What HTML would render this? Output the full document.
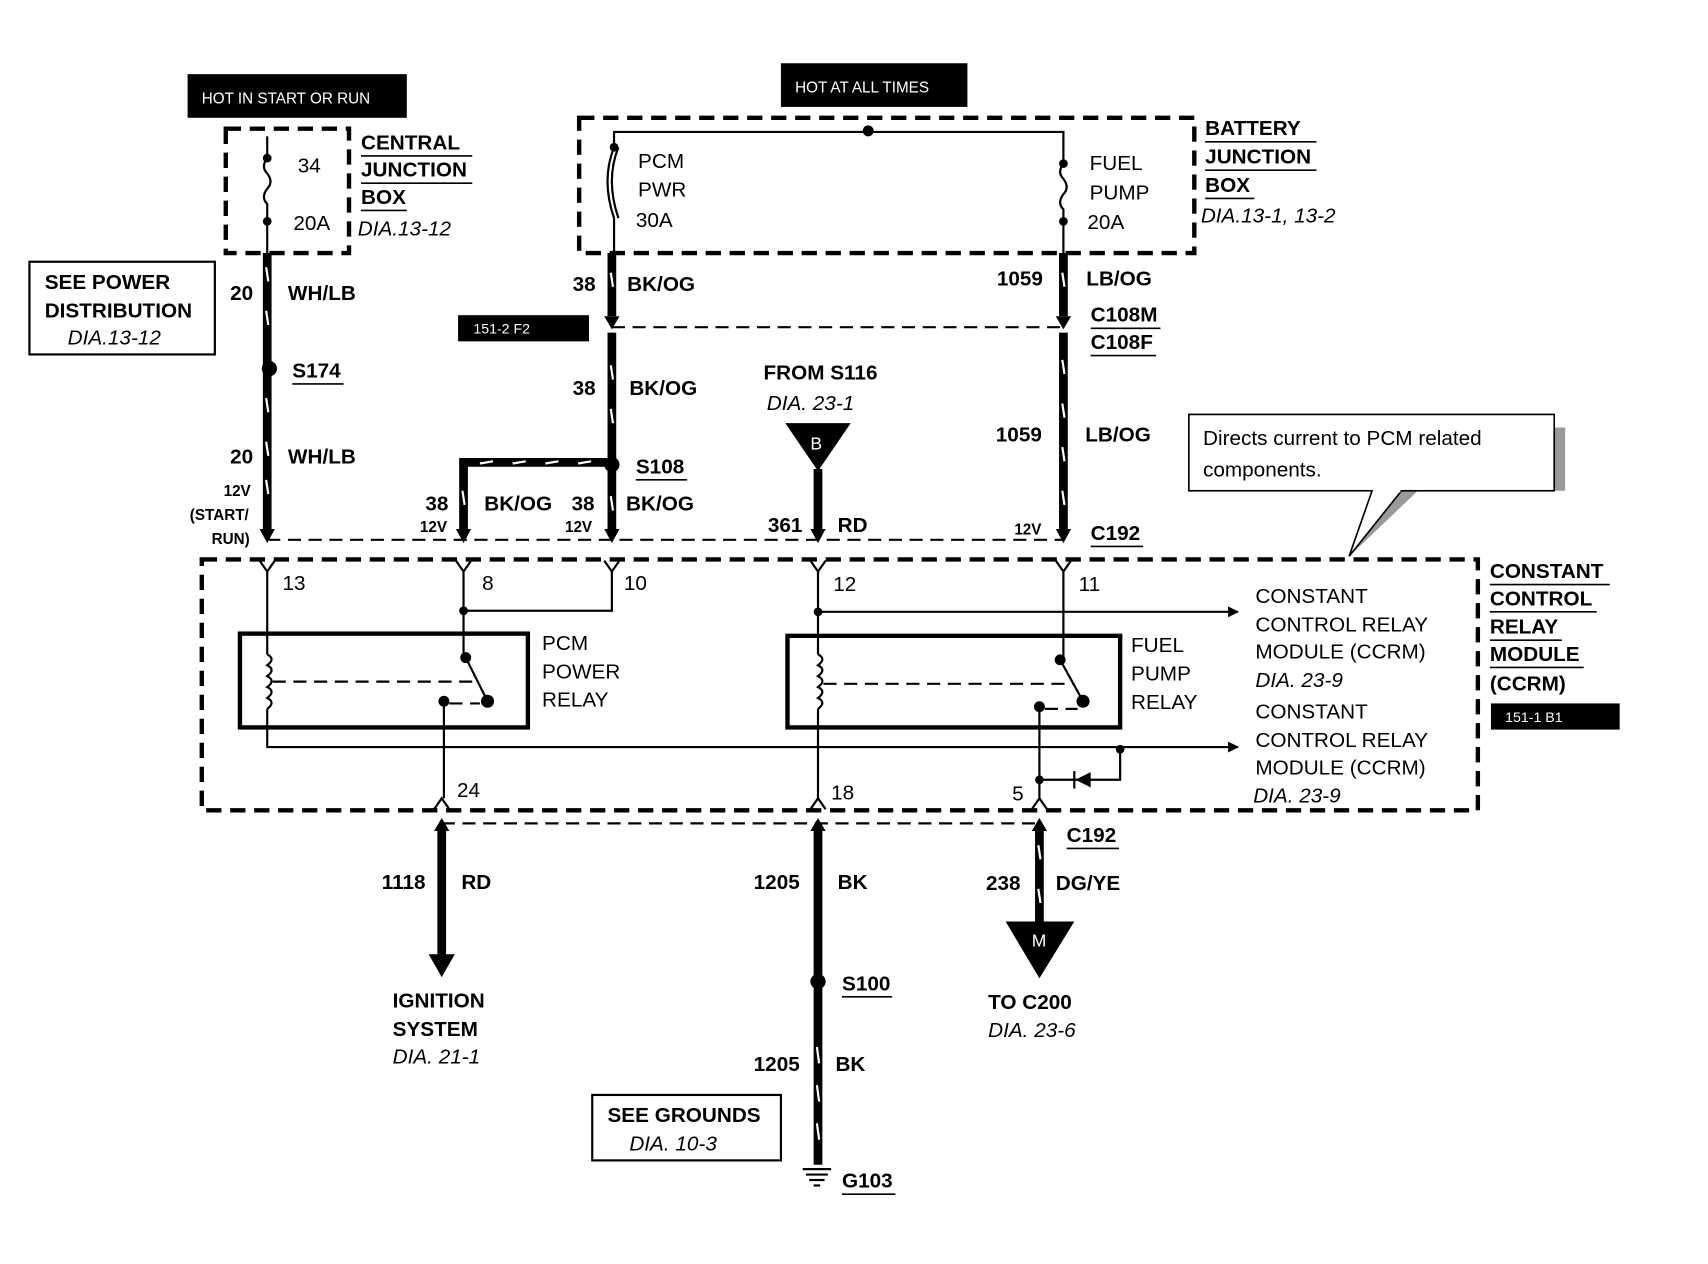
<!DOCTYPE html>
<html><head><meta charset="utf-8"><style>
html,body{margin:0;padding:0;background:#fff;}
svg{display:block;}
text{font-family:"Liberation Sans",Arial,sans-serif;font-size:19px;fill:#000;}
.b{font-weight:bold;}
.i{font-style:italic;}
.w{fill:#fff;font-size:14px;}
</style></head><body>
<svg width="1708" height="1264" viewBox="0 0 1566 1159" preserveAspectRatio="none" xmlns="http://www.w3.org/2000/svg">
<defs>
<marker id="ah" markerWidth="10" markerHeight="10" refX="9" refY="5" orient="auto" markerUnits="userSpaceOnUse"><path d="M0,0 L10,5 L0,10 z" fill="#000"/></marker>
</defs>
<rect x="172" y="68" width="201" height="40" fill="#000"/><text class="w" x="185" y="95">HOT IN START OR RUN</text>
<rect x="716" y="58" width="171" height="40" fill="#000"/><text class="w" x="729" y="85">HOT AT ALL TIMES</text>
<rect x="420" y="289" width="120" height="24" fill="#000"/><text class="w" x="434" y="306" style="font-size:13px">151-2 F2</text>
<rect x="1367" y="645" width="118" height="24" fill="#000"/><text class="w" x="1380" y="662" style="font-size:13px">151-1 B1</text>

<g fill="none" stroke="#000" stroke-width="4" stroke-dasharray="14,8">
<rect x="207" y="118" width="113" height="114"/>
<rect x="531" y="108" width="564" height="124"/>
<rect x="185" y="513" width="1170" height="230"/>
</g>
<g fill="none" stroke="#000" stroke-width="2" stroke-dasharray="12,7">
<line x1="561" y1="300" x2="975" y2="300"/>
<line x1="245" y1="495" x2="975" y2="495"/>
<line x1="405" y1="755" x2="953" y2="755"/>
</g>

<g stroke="#000" stroke-width="2" fill="none">
<line x1="245" y1="125" x2="245" y2="145"/>
<path d="M245,145 q-6,8 0,14 q6,8 0,14 q-6,8 0,14 l0,16"/>
<line x1="245" y1="203" x2="245" y2="232"/>
<polyline points="563,135 563,121 975,121 975,150"/>
<path d="M563,135 q-12,30 0,65 M567,135 q-12,30 0,65"/>
<line x1="563" y1="200" x2="563" y2="232"/>
<path d="M975,150 q-6,8 0,14 q6,8 0,14 q-6,8 0,14 l0,11"/>
<line x1="975" y1="203" x2="975" y2="232"/>
</g>
<g fill="#000"><circle cx="245" cy="145" r="4"/><circle cx="245" cy="203" r="4"/><circle cx="796" cy="120" r="5"/><circle cx="563" cy="135" r="4"/><circle cx="975" cy="150" r="4"/><circle cx="975" cy="203" r="4"/></g>

<g stroke="#000" stroke-width="8" fill="none">
<line x1="245" y1="232" x2="245" y2="485"/>
<line x1="561" y1="232" x2="561" y2="290"/>
<line x1="561" y1="305" x2="561" y2="485"/>
<line x1="975" y1="232" x2="975" y2="290"/>
<line x1="975" y1="305" x2="975" y2="485"/>
<polyline points="561,424 425,424 425,485"/>
<line x1="750" y1="430" x2="750" y2="485"/>
<line x1="405" y1="760" x2="405" y2="878"/>
<line x1="750" y1="760" x2="750" y2="1068"/>
<line x1="953" y1="760" x2="953" y2="848"/>
</g>
<g stroke="#fff" stroke-width="2">
<line x1="244" y1="245" x2="246" y2="258"/><line x1="244" y1="285" x2="246" y2="298"/><line x1="244" y1="365" x2="246" y2="378"/><line x1="244" y1="405" x2="246" y2="418"/><line x1="244" y1="440" x2="246" y2="453"/>
<line x1="560" y1="250" x2="562" y2="263"/><line x1="560" y1="335" x2="562" y2="348"/><line x1="560" y1="375" x2="562" y2="388"/><line x1="560" y1="455" x2="562" y2="468"/>
<line x1="974" y1="250" x2="976" y2="263"/><line x1="974" y1="330" x2="976" y2="343"/><line x1="974" y1="370" x2="976" y2="383"/><line x1="974" y1="410" x2="976" y2="423"/><line x1="974" y1="450" x2="976" y2="463"/>
<line x1="440" y1="425" x2="452" y2="423"/><line x1="470" y1="425" x2="482" y2="423"/><line x1="500" y1="425" x2="512" y2="423"/><line x1="530" y1="425" x2="542" y2="423"/>
<line x1="424" y1="450" x2="426" y2="463"/>
<line x1="952" y1="775" x2="954" y2="788"/><line x1="952" y1="815" x2="954" y2="828"/>
<line x1="749" y1="960" x2="751" y2="975"/><line x1="749" y1="995" x2="751" y2="1010"/><line x1="749" y1="1030" x2="751" y2="1045"/>
</g>
<g fill="#000">
<path d="M238,485 L252,485 L245,498 z"/><path d="M418,485 L432,485 L425,498 z"/><path d="M554,485 L568,485 L561,498 z"/><path d="M743,485 L757,485 L750,498 z"/><path d="M968,485 L982,485 L975,498 z"/>
<path d="M554,290 L568,290 L561,302 z"/><path d="M968,290 L982,290 L975,302 z"/>
<path d="M398,762 L412,762 L405,750 z"/><path d="M743,762 L757,762 L750,750 z"/><path d="M946,762 L960,762 L953,750 z"/>
<path d="M393,875 L417,875 L405,896 z"/>
<path d="M720,388 L780,388 L750,432 z"/><path d="M922,845 L985,845 L953,897 z"/>
<circle cx="247" cy="338" r="7"/><circle cx="561" cy="426" r="7"/><circle cx="750" cy="900" r="7"/>
</g>
<text x="743" y="412" class="w" style="font-size:16px">B</text>
<text x="946" y="868" class="w" style="font-size:16px">M</text>
<g stroke="#000" stroke-width="2"><line x1="736" y1="1072" x2="762" y2="1072"/><line x1="739" y1="1077" x2="759" y2="1077"/><line x1="742" y1="1082" x2="756" y2="1082"/><line x1="746" y1="1087" x2="752" y2="1087"/></g>

<g stroke="#000" stroke-width="2" fill="none">
<path d="M238,514 L245,524 L252,514"/><path d="M418,514 L425,524 L432,514"/><path d="M554,514 L561,524 L568,514"/><path d="M743,514 L750,524 L757,514"/><path d="M968,514 L975,524 L982,514"/>
<path d="M398,742 L405,732 L412,742"/><path d="M743,742 L750,732 L757,742"/><path d="M946,742 L953,732 L960,742"/>
<line x1="245" y1="524" x2="245" y2="600"/>
<path d="M245,600 q8,4 0,10 q8,4 0,10 q8,4 0,10 q8,4 0,10 q8,4 0,10"/>
<polyline points="245,650 245,685 1135,685" marker-end="url(#ah)"/>
<polyline points="425,524 425,603"/>
<polyline points="425,560 561,560 561,524"/>
<line x1="427" y1="603" x2="447" y2="643"/>
<line x1="407" y1="643" x2="407" y2="732"/>
<line x1="750" y1="524" x2="750" y2="600"/>
<path d="M750,600 q8,4 0,10 q8,4 0,10 q8,4 0,10 q8,4 0,10 q8,4 0,10"/>
<line x1="750" y1="650" x2="750" y2="732"/>
<line x1="750" y1="561" x2="1135" y2="561" marker-end="url(#ah)"/>
<line x1="975" y1="524" x2="975" y2="605"/>
<line x1="972" y1="605" x2="993" y2="643"/>
<line x1="953" y1="648" x2="953" y2="732"/>
<polyline points="953,715 1027,715 1027,687"/>
</g>
<g stroke="#000" stroke-width="2" stroke-dasharray="12,7"><line x1="250" y1="625" x2="440" y2="625"/><line x1="755" y1="627" x2="985" y2="627"/><line x1="412" y1="645" x2="440" y2="645"/><line x1="958" y1="650" x2="988" y2="650"/></g>
<path d="M1000,708 L1000,722 L986,715 z" fill="#000"/><line x1="985" y1="707" x2="985" y2="723" stroke="#000" stroke-width="2"/>
<g fill="#000"><circle cx="425" cy="560" r="4"/><circle cx="427" cy="603" r="5"/><circle cx="447" cy="643" r="6"/><circle cx="407" cy="643" r="5"/><circle cx="750" cy="561" r="4"/><circle cx="972" cy="605" r="5"/><circle cx="993" cy="643" r="6"/><circle cx="953" cy="648" r="5"/><circle cx="953" cy="715" r="4"/><circle cx="1027" cy="687" r="4"/></g>
<rect x="220" y="581" width="264" height="86" fill="none" stroke="#000" stroke-width="4"/>
<rect x="722" y="583" width="305" height="84" fill="none" stroke="#000" stroke-width="4"/>

<rect x="27" y="240" width="170" height="85" fill="none" stroke="#000" stroke-width="2"/>
<rect x="543" y="1004" width="173" height="60" fill="none" stroke="#000" stroke-width="2"/>
<path d="M1105,450 L1435,450 L1435,392 L1425,392 L1425,450 z M1275,450 L1237,510 L1300,450 z" fill="#999"/>
<rect x="1090" y="380" width="335" height="70" fill="#fff" stroke="#000" stroke-width="1.5"/>
<polyline points="1258,450 1237,510 1285,450" fill="#fff" stroke="#000" stroke-width="1.5"/>
<line x1="1259" y1="450" x2="1284" y2="450" stroke="#fff" stroke-width="3"/>
<text x="1103" y="408">Directs current to PCM related</text>
<text x="1103" y="437">components.</text>

<g>
<text x="273" y="158">34</text><text x="269" y="211">20A</text>
<text class="b" x="331" y="137">CENTRAL</text><text class="b" x="331" y="162">JUNCTION</text><text class="b" x="331" y="187">BOX</text>
<text class="i" x="328" y="216">DIA.13-12</text>
<text x="585" y="154">PCM</text><text x="585" y="180">PWR</text><text x="583" y="208">30A</text>
<text x="999" y="156">FUEL</text><text x="999" y="183">PUMP</text><text x="997" y="210">20A</text>
<text class="b" x="1105" y="124">BATTERY</text><text class="b" x="1105" y="150">JUNCTION</text><text class="b" x="1105" y="176">BOX</text>
<text class="i" x="1101" y="204">DIA.13-1, 13-2</text>
<text class="b" x="41" y="265">SEE POWER</text><text class="b" x="41" y="291">DISTRIBUTION</text><text class="i" x="62" y="316">DIA.13-12</text>
<text class="b" x="211" y="275">20</text><text class="b" x="264" y="275">WH/LB</text>
<text class="b" x="268" y="346">S174</text>
<text class="b" x="211" y="425">20</text><text class="b" x="264" y="425">WH/LB</text>
<text class="b" x="205" y="455" style="font-size:14px">12V</text><text class="b" x="174" y="477" style="font-size:14px">(START/</text><text class="b" x="194" y="499" style="font-size:14px">RUN)</text>
<text class="b" x="525" y="267">38</text><text class="b" x="575" y="267">BK/OG</text>
<text class="b" x="1000" y="295">C108M</text><text class="b" x="1000" y="320">C108F</text>
<text class="b" x="914" y="262">1059</text><text class="b" x="996" y="262">LB/OG</text>
<text class="b" x="525" y="362">38</text><text class="b" x="577" y="362">BK/OG</text>
<text class="b" x="583" y="434">S108</text>
<text class="b" x="390" y="468">38</text><text class="b" x="444" y="468">BK/OG</text><text class="b" x="524" y="468">38</text><text class="b" x="574" y="468">BK/OG</text>
<text class="b" x="385" y="488" style="font-size:14px">12V</text><text class="b" x="518" y="488" style="font-size:14px">12V</text>
<text class="b" x="700" y="348">FROM S116</text><text class="i" x="703" y="376">DIA. 23-1</text>
<text class="b" x="704" y="488">361</text><text class="b" x="768" y="488">RD</text>
<text class="b" x="913" y="405">1059</text><text class="b" x="995" y="405">LB/OG</text>
<text class="b" x="930" y="490" style="font-size:14px">12V</text><text class="b" x="1000" y="495">C192</text>
<text x="259" y="541">13</text><text x="442" y="541">8</text><text x="572" y="541">10</text><text x="764" y="542">12</text><text x="989" y="542">11</text>
<text x="497" y="596">PCM</text><text x="497" y="622">POWER</text><text x="497" y="648">RELAY</text>
<text x="1037" y="598">FUEL</text><text x="1037" y="624">PUMP</text><text x="1037" y="650">RELAY</text>
<text x="1151" y="553">CONSTANT</text><text x="1151" y="579">CONTROL RELAY</text><text x="1151" y="604">MODULE (CCRM)</text><text class="i" x="1151" y="630">DIA. 23-9</text>
<text x="1151" y="659">CONSTANT</text><text x="1151" y="685">CONTROL RELAY</text><text x="1151" y="710">MODULE (CCRM)</text><text class="i" x="1149" y="736">DIA. 23-9</text>
<text class="b" x="1366" y="530">CONSTANT</text><text class="b" x="1366" y="555">CONTROL</text><text class="b" x="1366" y="581">RELAY</text><text class="b" x="1366" y="606">MODULE</text><text class="b" x="1366" y="633">(CCRM)</text>
<text x="419" y="731">24</text><text x="762" y="733">18</text><text x="928" y="734">5</text>
<text class="b" x="978" y="772">C192</text>
<text class="b" x="350" y="815">1118</text><text class="b" x="423" y="815">RD</text>
<text class="b" x="691" y="815">1205</text><text class="b" x="768" y="815">BK</text>
<text class="b" x="904" y="816">238</text><text class="b" x="968" y="816">DG/YE</text>
<text class="b" x="360" y="924">IGNITION</text><text class="b" x="360" y="950">SYSTEM</text><text class="i" x="360" y="975">DIA. 21-1</text>
<text class="b" x="772" y="908">S100</text>
<text class="b" x="906" y="925">TO C200</text><text class="i" x="906" y="951">DIA. 23-6</text>
<text class="b" x="691" y="982">1205</text><text class="b" x="766" y="982">BK</text>
<text class="b" x="557" y="1029">SEE GROUNDS</text><text class="i" x="577" y="1055">DIA. 10-3</text>
<text class="b" x="772" y="1089">G103</text>
</g>
<g stroke="#000" stroke-width="1.5">
<line x1="331" y1="143" x2="433" y2="143"/><line x1="331" y1="168" x2="433" y2="168"/><line x1="331" y1="193" x2="373" y2="193"/>
<line x1="1105" y1="130" x2="1207" y2="130"/><line x1="1105" y1="156" x2="1207" y2="156"/><line x1="1105" y1="182" x2="1150" y2="182"/>
<line x1="268" y1="352" x2="315" y2="352"/><line x1="583" y1="440" x2="630" y2="440"/>
<line x1="1000" y1="301" x2="1064" y2="301"/><line x1="1000" y1="326" x2="1060" y2="326"/>
<line x1="1000" y1="501" x2="1048" y2="501"/><line x1="978" y1="778" x2="1026" y2="778"/>
<line x1="772" y1="914" x2="818" y2="914"/><line x1="772" y1="1095" x2="821" y2="1095"/>
<line x1="1366" y1="536" x2="1476" y2="536"/><line x1="1366" y1="561" x2="1464" y2="561"/><line x1="1366" y1="587" x2="1432" y2="587"/><line x1="1366" y1="612" x2="1452" y2="612"/>
</g>
</svg>
</body></html>
